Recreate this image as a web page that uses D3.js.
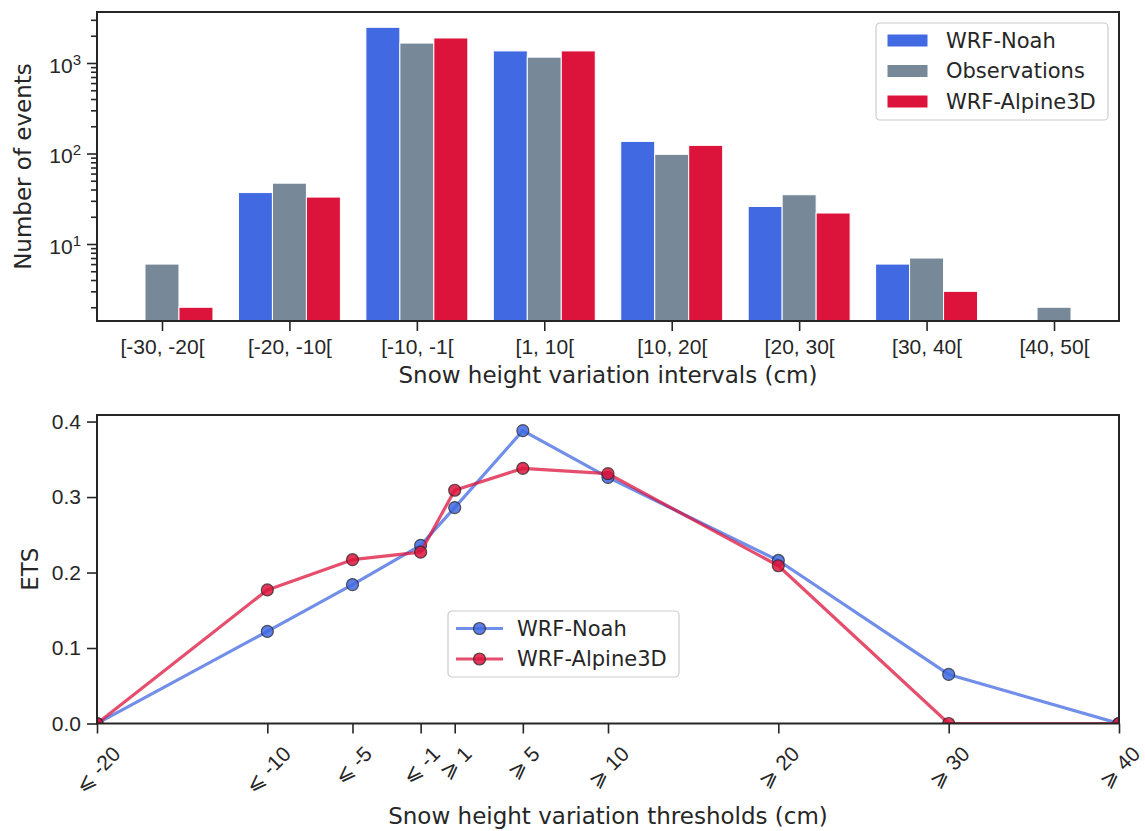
<!DOCTYPE html>
<html>
<head>
<meta charset="utf-8">
<script src="https://d3js.org/d3.v7.min.js"></script>
<style>
  body { margin: 0; background: #fff; }
  svg { font-family: "DejaVu Sans", sans-serif; fill: #262626; }
  .axis path { display: none; }
  .axis line { stroke: #262626; stroke-width: 1.6; }
  .axis text { font-size: 21px; fill: #262626; }
  .frame { fill: none; stroke: #262626; stroke-width: 2; }
  .label { font-size: 23px; fill: #262626; }
  .legend-text { font-size: 21px; fill: #262626; }
  .legend-box { fill: #fff; fill-opacity: 0.8; stroke: #cccccc; stroke-width: 1.2; }
</style>
</head>
<body>
<svg width="1145" height="831"></svg>
<script>
// ---- top panel data: number of events per interval ----
const intervals = ["[-30, -20[", "[-20, -10[", "[-10, -1[", "[1, 10[", "[10, 20[", "[20, 30[", "[30, 40[", "[40, 50["];
const noahCounts   = [0, 37, 2480, 1360, 136, 26, 6, 0];
const obsCounts    = [6, 47, 1660, 1160, 98, 35, 7, 2];
const alpineCounts = [2, 33, 1890, 1360, 123, 22, 3, 0];
const barSeries = ["WRF-Noah", "Observations", "WRF-Alpine3D"];
const barColors = ["#4169e1", "#778899", "#dc143c"];

// ---- bottom panel data: ETS per threshold ----
const thresholds = [-20, -10, -5, -1, 1, 5, 10, 20, 30, 40];
const thresholdLabels = ["⩽ -20", "⩽ -10", "⩽ -5", "⩽ -1", "⩾ 1", "⩾ 5", "⩾ 10", "⩾ 20", "⩾ 30", "⩾ 40"];
const noahEts   = [0, 0.122, 0.184, 0.236, 0.286, 0.388, 0.326, 0.216, 0.065, 0];
const alpineEts = [0, 0.177, 0.217, 0.227, 0.309, 0.338, 0.331, 0.209, 0, 0];
const etsTicks = [0, 0.1, 0.2, 0.3, 0.4];

const svg = d3.select("svg");

// ================= top panel =================
const box1 = { left: 97, right: 1119, top: 12, bottom: 321 };

const xb = d3.scaleLinear().domain([-0.51, 7.51]).range([box1.left, box1.right]);
const yb = d3.scaleLog().domain([1.41, 3660]).range([box1.bottom, box1.top]);
const slot = 0.8 / 3;

const counts = [noahCounts, obsCounts, alpineCounts];
const g1 = svg.append("g");

counts.forEach((vals, s) => {
  g1.append("g").selectAll("rect")
    .data(vals.map((v, i) => ({ v, i })).filter(d => d.v > 0))
    .join("rect")
      .attr("x", d => xb(d.i + (s - 1.5) * slot))
      .attr("width", xb(slot) - xb(0))
      .attr("y", d => yb(d.v))
      .attr("height", d => box1.bottom - yb(d.v))
      .attr("fill", barColors[s])
      .attr("stroke", "#fff")
      .attr("stroke-width", 1);
});

// minor log ticks
const minor = [];
[1, 10, 100, 1000].forEach(dec => {
  for (let k = 2; k <= 9; k++) {
    const v = dec * k;
    if (v >= 1.41 && v <= 3660) minor.push(v);
  }
});
g1.append("g").attr("class", "axis")
  .attr("transform", `translate(${box1.left},0)`)
  .call(d3.axisLeft(yb).tickValues(minor).tickSize(6).tickFormat(""));

const yAxisTop = g1.append("g").attr("class", "axis")
  .attr("transform", `translate(${box1.left},0)`)
  .call(d3.axisLeft(yb).tickValues([10, 100, 1000]).tickSize(10).tickPadding(6).tickFormat(""));
yAxisTop.selectAll(".tick text").each(function(d) {
  const t = d3.select(this).attr("dy", "0.45em");
  t.append("tspan").text("10");
  t.append("tspan").attr("dy", "-0.55em").style("font-size", "15px").text(Math.round(Math.log10(d)));
});

g1.append("g").attr("class", "axis")
  .attr("transform", `translate(0,${box1.bottom})`)
  .call(d3.axisBottom(xb).tickValues(d3.range(intervals.length)).tickSize(10).tickPadding(8)
    .tickFormat(i => intervals[i]));

g1.append("rect").attr("class", "frame")
  .attr("x", box1.left).attr("y", box1.top)
  .attr("width", box1.right - box1.left).attr("height", box1.bottom - box1.top);

svg.append("text").attr("class", "label")
  .attr("x", (box1.left + box1.right) / 2).attr("y", 383)
  .attr("text-anchor", "middle")
  .text("Snow height variation intervals (cm)");

svg.append("text").attr("class", "label")
  .attr("transform", `translate(31,${(box1.top + box1.bottom) / 2}) rotate(-90)`)
  .attr("text-anchor", "middle")
  .text("Number of events");

// top legend
const leg1 = svg.append("g").attr("transform", "translate(876,23)");
leg1.append("rect").attr("class", "legend-box")
  .attr("width", 232).attr("height", 97).attr("rx", 4);
barSeries.forEach((name, i) => {
  leg1.append("rect").attr("x", 11).attr("y", 11 + i * 30.5)
    .attr("width", 41).attr("height", 13).attr("fill", barColors[i])
    .attr("stroke", "#fff").attr("stroke-width", 1);
  leg1.append("text").attr("class", "legend-text")
    .attr("x", 70).attr("y", 17.5 + i * 30.5).attr("dy", "0.35em")
    .text(name);
});

// ================= bottom panel =================
const box2 = { left: 97, right: 1119, top: 415, bottom: 723.5 };
const xl = d3.scaleLinear().domain([-20, 40]).range([box2.left, box2.right]);
const yl = d3.scaleLinear().domain([0, 0.4087]).range([box2.bottom, box2.top]);

const g2 = svg.append("g");
g2.append("clipPath").attr("id", "clip2").append("rect")
  .attr("x", box2.left).attr("y", box2.top)
  .attr("width", box2.right - box2.left).attr("height", box2.bottom - box2.top);

const lineColors = ["#4169e1", "#dc143c"];
const etsSeries = [
  { name: "WRF-Noah", vals: noahEts, color: lineColors[0] },
  { name: "WRF-Alpine3D", vals: alpineEts, color: lineColors[1] }
];

const line = d3.line().x((d, i) => xl(thresholds[i])).y(d => yl(d));
const plot2 = g2.append("g").attr("clip-path", "url(#clip2)");
etsSeries.forEach(s => {
  plot2.append("path").datum(s.vals)
    .attr("d", line)
    .attr("fill", "none")
    .attr("stroke", s.color)
    .attr("stroke-opacity", 0.75)
    .attr("stroke-width", 3.2)
    .attr("stroke-linejoin", "round");
  plot2.append("g").selectAll("circle")
    .data(s.vals)
    .join("circle")
      .attr("cx", (d, i) => xl(thresholds[i]))
      .attr("cy", d => yl(d))
      .attr("r", 6)
      .attr("fill", s.color)
      .attr("fill-opacity", 0.85)
      .attr("stroke", "#262626")
      .attr("stroke-opacity", 0.75)
      .attr("stroke-width", 1.2);
});

g2.append("g").attr("class", "axis")
  .attr("transform", `translate(${box2.left},0)`)
  .call(d3.axisLeft(yl).tickValues(etsTicks).tickSize(10).tickPadding(6).tickFormat(d3.format(".1f")));

const xAxisBot = g2.append("g").attr("class", "axis")
  .attr("transform", `translate(0,${box2.bottom})`)
  .call(d3.axisBottom(xl).tickValues(thresholds).tickSize(10).tickFormat((d, i) => thresholdLabels[i]));

// rotate labels 45 degrees around their centre, like matplotlib
xAxisBot.selectAll(".tick text").each(function() {
  const t = d3.select(this);
  const w = this.getComputedTextLength();
  const h = 24;
  const cy = 10 + 8 + (w + h) / Math.SQRT2 / 2;
  t.attr("y", null).attr("dy", "0.35em")
    .attr("text-anchor", "middle")
    .attr("transform", `translate(0,${cy}) rotate(-45)`);
});

g2.append("rect").attr("class", "frame")
  .attr("x", box2.left).attr("y", box2.top)
  .attr("width", box2.right - box2.left).attr("height", box2.bottom - box2.top);

svg.append("text").attr("class", "label")
  .attr("x", (box2.left + box2.right) / 2).attr("y", 824)
  .attr("text-anchor", "middle")
  .text("Snow height variation thresholds (cm)");

svg.append("text").attr("class", "label")
  .attr("transform", `translate(38,${(box2.top + box2.bottom) / 2}) rotate(-90)`)
  .attr("text-anchor", "middle")
  .text("ETS");

// bottom legend
const leg2 = svg.append("g").attr("transform", "translate(448,611)");
leg2.append("rect").attr("class", "legend-box")
  .attr("width", 231).attr("height", 66).attr("rx", 4);
etsSeries.forEach((s, i) => {
  const cy = 17.5 + i * 30.5;
  leg2.append("line").attr("x1", 8).attr("x2", 55).attr("y1", cy).attr("y2", cy)
    .attr("stroke", s.color).attr("stroke-opacity", 0.75).attr("stroke-width", 3.2);
  leg2.append("circle").attr("cx", 31.5).attr("cy", cy).attr("r", 6)
    .attr("fill", s.color).attr("fill-opacity", 0.85)
    .attr("stroke", "#262626").attr("stroke-opacity", 0.75).attr("stroke-width", 1.2);
  leg2.append("text").attr("class", "legend-text")
    .attr("x", 69).attr("y", cy).attr("dy", "0.35em")
    .text(s.name);
});
</script>
</body>
</html>
